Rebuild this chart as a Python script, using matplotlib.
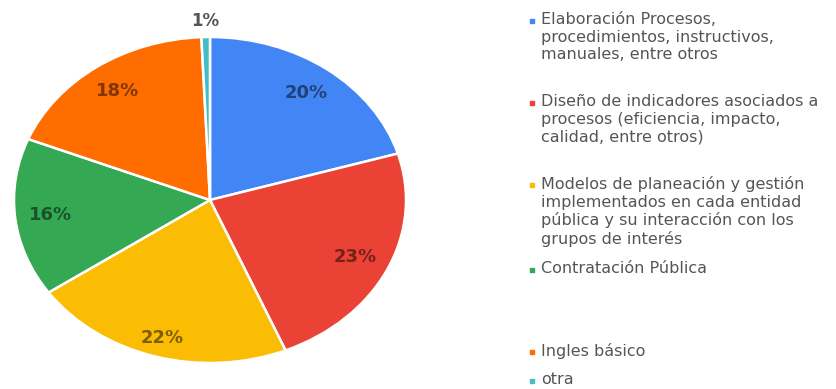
import matplotlib
matplotlib.use("Agg")
import matplotlib.pyplot as plt

categories = [
    "Elaboración Procesos,\nprocedimientos, instructivos,\nmanuales, entre otros",
    "Diseño de indicadores asociados a\nprocesos (eficiencia, impacto,\ncalidad, entre otros)",
    "Modelos de planeación y gestión\nimplementados en cada entidad\npública y su interacción con los\ngrupos de interés",
    "Contratación Pública",
    "Ingles básico",
    "otra",
]
shares = [20.4, 23.3, 21.7, 15.7, 18.2, 0.7]
colors = ["#4285F4", "#EA4335", "#FBBC04", "#34A853", "#FF6D01", "#46BDC6"]
legend_y = [21, 103, 185, 270, 352, 381]

fig = plt.figure(figsize=(8.36, 3.89), dpi=100)
W, H = 836, 389

# pie drawn as a stretched ellipse, like the reference
ax = fig.add_axes([14 / W, 26 / H, 392 / W, 326 / H])
wedges, texts, autotexts = ax.pie(
    shares, colors=colors, startangle=90, counterclock=False,
    wedgeprops=dict(edgecolor="white", linewidth=1.8),
    autopct="%.0f%%", pctdistance=0.82,
    textprops=dict(family="DejaVu Sans", fontsize=13, fontweight="bold"),
)
ax.set_aspect("auto")
ax.set_xlim(-1, 1)
ax.set_ylim(-1, 1)

for t in autotexts:
    t.set_color("black")
    t.set_alpha(0.5)
# the tiny slice gets its label outside
x, y = autotexts[-1].get_position()
autotexts[-1].set_position((x * 1.1 / 0.82, y * 1.1 / 0.82))
autotexts[-1].set_color("#555555")
autotexts[-1].set_alpha(1)
autotexts[-1].set_fontsize(12)
autotexts[2].set_position((autotexts[2].get_position()[0] * 1.05,
                           autotexts[2].get_position()[1] * 1.08))

# legend
for label, c, yy in zip(categories, colors, legend_y):
    fig.patches.append(plt.Rectangle((530 / W, 1 - (yy + 2) / H), 4 / W, 4 / H,
                                     color=c, transform=fig.transFigure))
    fig.text(541 / W, 1 - (yy - 9) / H, label, ha="left", va="top",
             fontsize=11.5, color="#555555", family="DejaVu Sans",
             linespacing=1.22)

fig.savefig("out.png", dpi=100)
